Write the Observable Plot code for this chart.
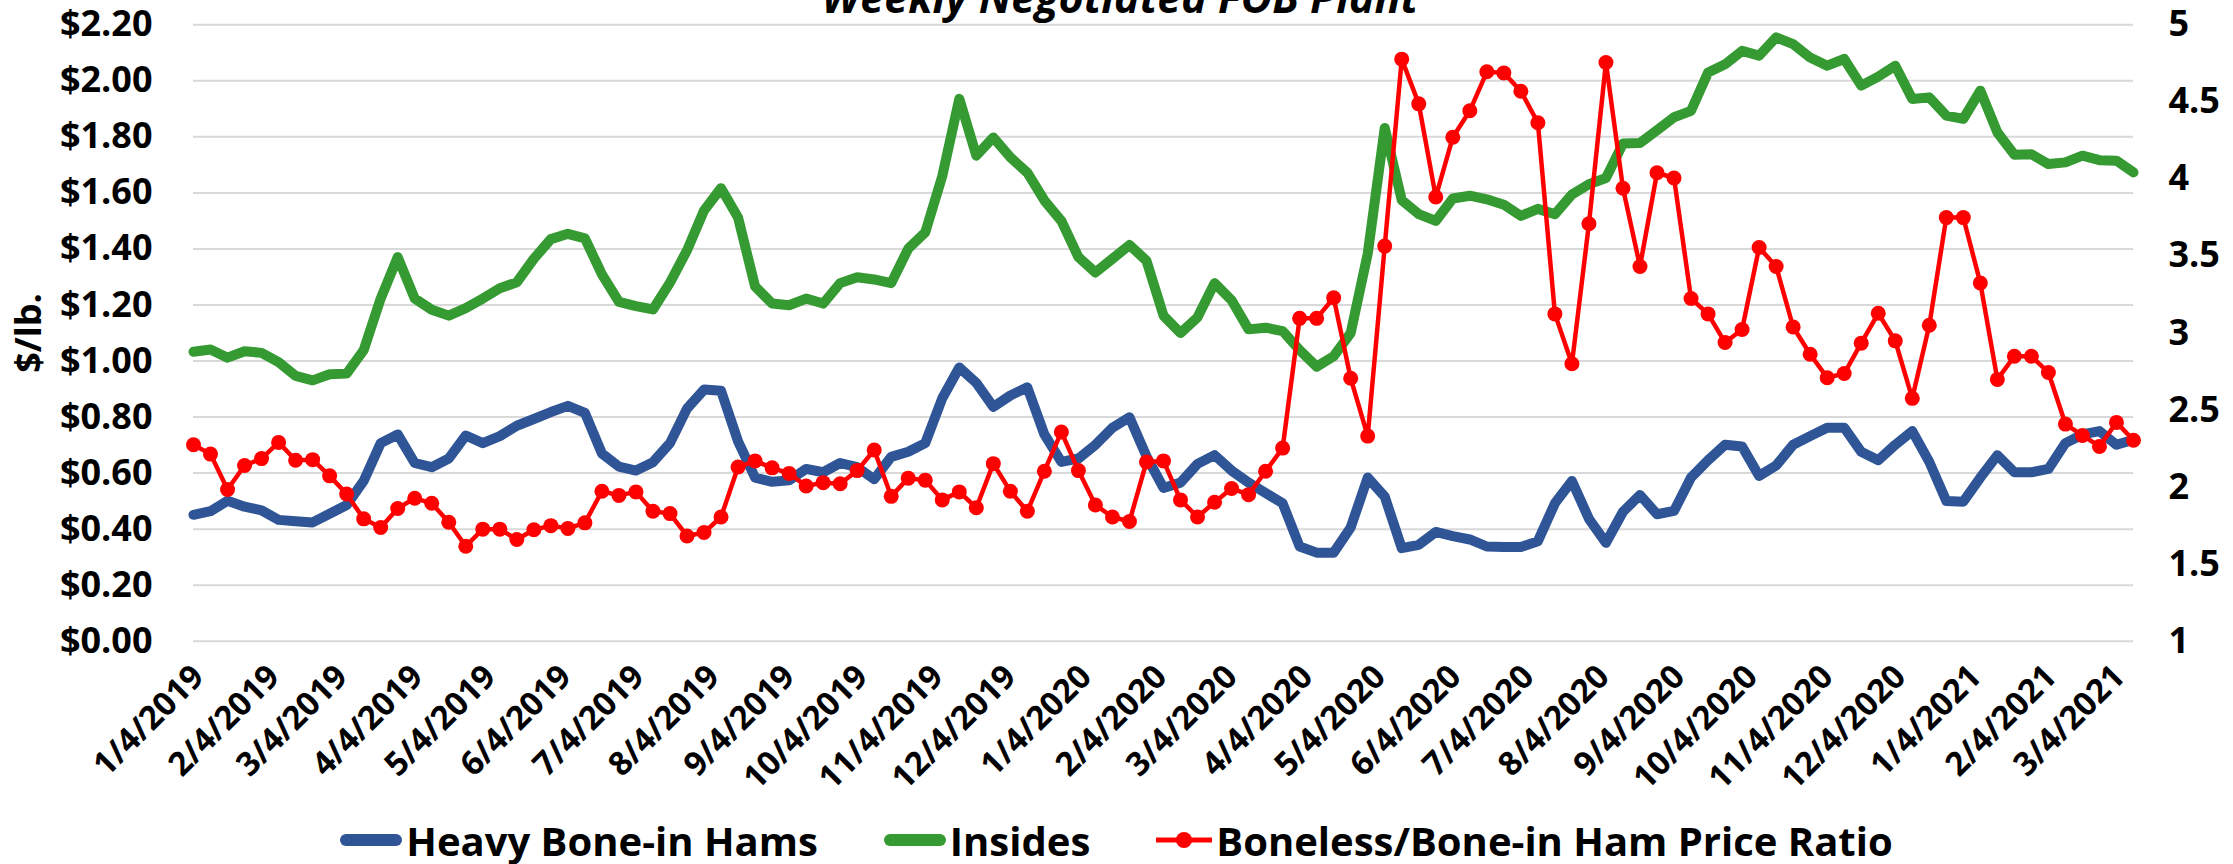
<!DOCTYPE html>
<html><head><meta charset="utf-8">
<script src="https://cdn.jsdelivr.net/npm/d3@7"></script>
<script src="https://cdn.jsdelivr.net/npm/@observablehq/plot@0.6"></script>
<style>
body{margin:0;background:#fff;}
#wrap{position:relative;width:2233px;height:864px;overflow:hidden;background:#fff;}
#title{position:absolute;left:0;top:0;}
#chart{position:absolute;left:0;top:0;}
#legend{position:absolute;left:0;top:810px;width:2233px;height:60px;display:flex;justify-content:center;align-items:center;font-family:"Open Sans",sans-serif;font-weight:700;font-size:40px;color:#000;padding-left:0;box-sizing:border-box;}
.item{display:flex;align-items:center;margin:0 33px;}
.item span{margin-left:4px;white-space:nowrap;}
</style></head>
<body><div id="wrap">
<div id="chart"></div>
<svg id="title" width="2233" height="40"><text x="1120" y="13" text-anchor="middle" font-family="Open Sans, sans-serif" font-weight="700" font-style="italic" font-size="43">Weekly Negotiated FOB Plant</text></svg>
<div id="legend"></div>
</div>
<script>
// ---- data (weekly, starting 1/4/2019) ----
const firstWeek = "2019-01-04";
const hams = [
0.451,0.464,0.501,0.480,0.467,0.433,0.428,0.424,0.455,0.486,
0.572,0.707,0.738,0.636,0.621,0.652,0.734,0.707,0.732,0.769,
0.793,0.818,0.840,0.815,0.670,0.623,0.609,0.639,0.707,0.830,
0.898,0.894,0.713,0.584,0.569,0.574,0.615,0.603,0.636,0.621,
0.578,0.658,0.676,0.707,0.867,0.977,0.922,0.836,0.877,0.906,
0.738,0.640,0.652,0.701,0.762,0.799,0.660,0.547,0.566,0.633,
0.664,0.609,0.566,0.529,0.492,0.338,0.316,0.316,0.406,0.584,
0.516,0.332,0.344,0.390,0.375,0.363,0.338,0.336,0.336,0.357,
0.492,0.572,0.437,0.351,0.462,0.522,0.453,0.465,0.584,0.646,
0.701,0.695,0.590,0.627,0.701,0.732,0.762,0.762,0.676,0.646,
0.701,0.750,0.640,0.500,0.498,0.584,0.664,0.603,0.603,0.615,
0.707,0.738,0.750,0.701,0.719];
const insides = [
1.033,1.041,1.012,1.035,1.029,0.996,0.947,0.931,0.953,0.955,
1.039,1.223,1.371,1.223,1.183,1.162,1.189,1.223,1.260,1.281,
1.365,1.435,1.454,1.438,1.309,1.211,1.196,1.184,1.280,1.395,
1.537,1.617,1.512,1.266,1.205,1.199,1.223,1.205,1.278,1.299,
1.291,1.278,1.401,1.459,1.660,1.936,1.733,1.798,1.727,1.672,
1.573,1.500,1.371,1.316,1.365,1.414,1.358,1.162,1.100,1.156,
1.278,1.217,1.113,1.119,1.107,1.039,0.980,1.017,1.100,1.383,
1.832,1.574,1.524,1.500,1.580,1.590,1.577,1.558,1.518,1.543,
1.524,1.594,1.631,1.653,1.776,1.778,1.824,1.870,1.893,2.030,
2.059,2.107,2.090,2.155,2.131,2.083,2.054,2.078,1.983,2.015,
2.054,1.935,1.941,1.876,1.864,1.965,1.816,1.736,1.738,1.703,
1.709,1.733,1.717,1.715,1.673];
const ratio = [
2.275,2.214,1.984,2.140,2.185,2.290,2.174,2.178,2.073,1.955,
1.794,1.738,1.861,1.928,1.895,1.772,1.616,1.727,1.727,1.660,
1.723,1.750,1.732,1.768,1.973,1.946,1.969,1.843,1.828,1.683,
1.705,1.806,2.130,2.170,2.125,2.089,2.007,2.029,2.022,2.107,
2.241,1.940,2.058,2.045,1.917,1.969,1.866,2.152,1.973,1.843,
2.103,2.358,2.107,1.884,1.806,1.777,2.163,2.170,1.917,1.806,
1.902,1.991,1.951,2.103,2.253,3.095,3.095,3.229,2.706,2.331,
3.564,4.777,4.487,3.883,4.270,4.442,4.695,4.688,4.569,4.364,
3.124,2.800,3.709,4.755,3.939,3.432,4.040,4.006,3.224,3.124,
2.938,3.023,3.555,3.432,3.039,2.862,2.710,2.737,2.934,3.128,
2.949,2.576,3.050,3.749,3.749,3.324,2.699,2.849,2.849,2.744,
2.409,2.335,2.264,2.420,2.304];
const xTickLabels = ["1/4/2019","2/4/2019","3/4/2019","4/4/2019","5/4/2019","6/4/2019","7/4/2019","8/4/2019","9/4/2019","10/4/2019","11/4/2019","12/4/2019",
"1/4/2020","2/4/2020","3/4/2020","4/4/2020","5/4/2020","6/4/2020","7/4/2020","8/4/2020","9/4/2020","10/4/2020","11/4/2020","12/4/2020",
"1/4/2021","2/4/2021","3/4/2021"];
const leftTicks = [0,0.2,0.4,0.6,0.8,1.0,1.2,1.4,1.6,1.8,2.0,2.2];
const rightTicks = [1,1.5,2,2.5,3,3.5,4,4.5,5];
const seriesNames = ["Heavy Bone-in Hams","Insides","Boneless/Bone-in Ham Price Ratio"];
const colors = ["#2F5597","#369A33","#FF0000"];

// ---- build ----
const start = d3.utcParse("%Y-%m-%d")(firstWeek);
const rows = hams.map((h,i)=>({date:d3.utcDay.offset(start,7*i),hams:h,insides:insides[i],ratio:ratio[i]}));
const parseTick = d3.utcParse("%m/%d/%Y");
const tickDates = xTickLabels.map(parseTick);
const LMAX = 2.2, RMIN = 1, RMAX = 5;
const toLeft = r => (r - RMIN) / (RMAX - RMIN) * LMAX;
const fromLeft = v => Math.round((RMIN + v / LMAX * (RMAX - RMIN)) * 10) / 10;

const font = '"Open Sans", sans-serif';
const chart = Plot.plot({
  width: 2233, height: 800,
  marginLeft: 193, marginRight: 100, marginTop: 24.3, marginBottom: 800 - 640.7,
  x: {type: "utc", domain: [rows[0].date, rows[rows.length-1].date]},
  y: {domain: [0, LMAX]},
  style: {fontFamily: font, fontWeight: 700, color: "#000", background: "#fff", overflow: "visible"},
  marks: [
    Plot.gridY(leftTicks, {stroke: "#D9D9D9", strokeOpacity: 1, strokeWidth: 2}),
    Plot.axisY({anchor: "left", ticks: leftTicks, tickSize: 0, tickPadding: 41, fontSize: 36, fontWeight: 700,
      tickFormat: d => "$" + d.toFixed(2), label: "$/lb.", labelAnchor: "center", labelOffset: 178, labelArrow: "none"}),
    Plot.axisY({anchor: "right", ticks: rightTicks.map(toLeft), tickSize: 0, tickPadding: 35, fontSize: 36, fontWeight: 700,
      tickFormat: d => String(fromLeft(d)), label: null}),
    Plot.axisX({ticks: tickDates, tickRotate: -45, tickSize: 0, tickPadding: 30, dx: 5, fontSize: 33, fontWeight: 700,
      tickFormat: d3.utcFormat("%-m/%-d/%Y"), label: null}),
    Plot.line(rows, {x: "date", y: "hams", stroke: colors[0], strokeWidth: 10, strokeLinejoin: "round", strokeLinecap: "round"}),
    Plot.line(rows, {x: "date", y: "insides", stroke: colors[1], strokeWidth: 10, strokeLinejoin: "round", strokeLinecap: "round"}),
    Plot.line(rows, {x: "date", y: d => toLeft(d.ratio), stroke: colors[2], strokeWidth: 4.5, strokeLinejoin: "round"}),
    Plot.dot(rows, {x: "date", y: d => toLeft(d.ratio), r: 7.5, fill: colors[2], stroke: null})
  ]
});
document.getElementById("chart").appendChild(chart);

// legend
const lg = document.getElementById("legend");
seriesNames.forEach((name, i) => {
  const it = document.createElement("div"); it.className = "item";
  const w = i === 2 ? 56 : 62;
  let sw;
  if (i < 2) sw = `<svg width="${w}" height="24"><line x1="6" x2="${w-6}" y1="12" y2="12" stroke="${colors[i]}" stroke-width="12" stroke-linecap="round"/></svg>`;
  else sw = `<svg width="${w}" height="24"><line x1="0" x2="${w}" y1="12" y2="12" stroke="${colors[i]}" stroke-width="5"/><circle cx="${w/2}" cy="12" r="8" fill="${colors[i]}"/></svg>`;
  it.innerHTML = sw + `<span>${name}</span>`;
  lg.appendChild(it);
});
</script>
</body></html>
